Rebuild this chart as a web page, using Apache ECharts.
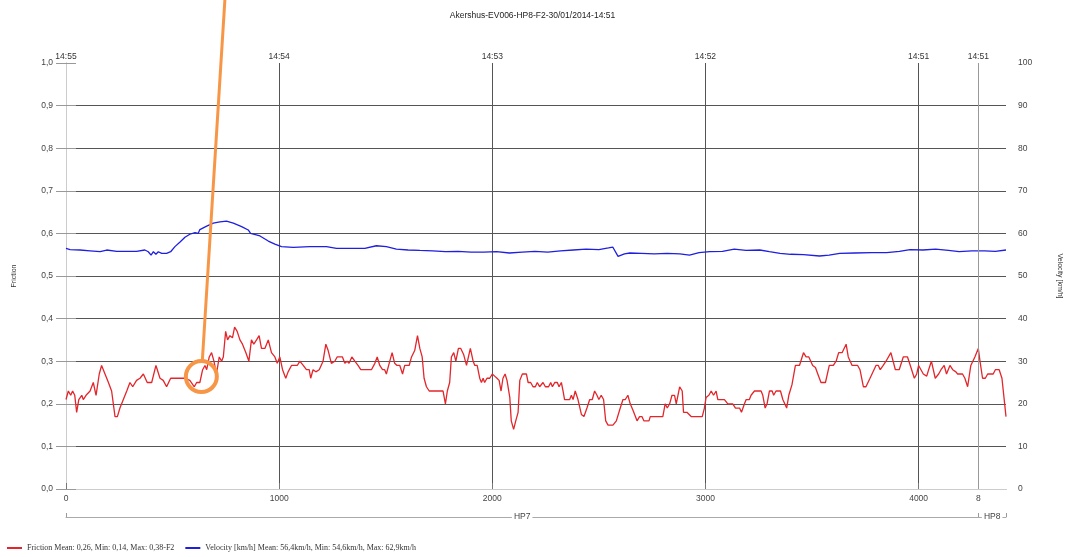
<!DOCTYPE html>
<html>
<head>
<meta charset="utf-8">
<script src="https://cdn.jsdelivr.net/npm/echarts@6/dist/echarts.min.js"></script>
<style>
  html, body { margin: 0; padding: 0; background: #fff; }
  #main { width: 1065px; height: 557px; }
</style>
</head>
<body>
<div id="main"></div>
<script>
// distance along the run (m) and friction
const frictionDist = [0,11,22,31,41,50,60,74,81,94,113,128,141,156,167,183,199,214,230,241,253,269,285,300,313,331,347,363,381,402,422,441,456,472,491,511,542,558,581,602,613,628,641,652,660,672,683,694,706,719,730,738,749,758,769,781,791,803,816,828,844,858,870,881,894,906,917,933,949,964,980,991,1003,1016,1031,1042,1058,1074,1085,1097,1113,1128,1141,1148,1159,1172,1188,1206,1219,1230,1245,1261,1272,1297,1308,1319,1328,1341,1355,1370,1383,1417,1433,1449,1460,1472,1485,1495,1503,1519,1530,1542,1553,
  1566,1579,1589,1610,1621,1636,1649,1660,1671,1680,1691,1704,1769,1780,1789,1800,1808,1819,1829,1841,1852,1866,1879,1897,1910,1918,1929,1941,1949,1957,1964,1975,1988,2000,2011,2022,2032,2041,2050,2060,2069,2082,2089,2100,2110,2121,2129,2141,2160,2168,2180,2191,2202,2211,2222,2238,2249,2264,2274,2282,2293,2305,2313,2324,2332,2339,2363,2371,2379,2389,2402,2418,2430,2444,2457,2469,2480,2491,2500,2511,2522,2532,2543,2566,2582,2597,2613,2624,2636,2647,2660,2679,2691,2702,2711,2735,2741,2800,2811,2821,2832,2843,2855,2863,2879,2891,2897,2913,2933,2972,
  2985,2995,3003,3016,3027,3038,3050,3058,3089,3105,3128,3141,3160,3169,3183,3191,3206,3214,3230,3261,3269,3280,3289,3300,3313,3320,3331,3352,3363,3370,3381,3391,3406,3422,3441,3460,3472,3485,3503,3516,3527,3542,3563,3581,3600,3613,3625,3641,3660,3670,3688,3714,3725,3741,3753,3772,3800,3811,3820,3834,3847,3870,3891,3909,3928,3948,3961,3980,3991,4000,4011,4022,4038,4047,4060,4078,4094,4105,4120,4131,4147,4160,4175,4183,4206,4217,4230,4245,4264,4280,4288,4300,4313,4324,4350,4360,4378,4391,4399,4410];
const frictionVal = [.21,.23,.22,.23,.22,.18,.21,.22,.21,.22,.23,.25,.22,.27,.29,.27,.25,.23,.17,.17,.19,.21,.23,.25,.24,.255,.26,.27,.25,.25,.29,.26,.255,.24,.26,.26,.26,.26,.255,.24,.25,.25,.28,.29,.28,.31,.32,.30,.27,.31,.30,.31,.37,.35,.36,.355,.38,.37,.35,.34,.32,.30,.35,.34,.35,.36,.33,.33,.35,.32,.31,.295,.31,.28,.26,.275,.29,.29,.29,.30,.29,.28,.28,.26,.28,.275,.28,.30,.34,.325,.295,.30,.31,.31,.295,.30,.295,.31,.30,.29,.28,.28,.28,.295,.31,.29,.28,.28,.27,.30,.32,.295,.29,
  .29,.27,.29,.29,.31,.325,.36,.33,.31,.26,.24,.23,.23,.20,.23,.25,.31,.32,.30,.33,.33,.315,.29,.33,.30,.29,.29,.26,.25,.26,.25,.26,.26,.27,.265,.26,.255,.23,.26,.27,.255,.215,.16,.14,.16,.18,.255,.27,.27,.25,.25,.24,.24,.25,.24,.25,.24,.24,.25,.24,.25,.25,.24,.25,.23,.21,.21,.22,.21,.23,.21,.175,.17,.19,.21,.21,.23,.22,.21,.22,.21,.16,.15,.15,.16,.185,.21,.21,.22,.20,.185,.16,.17,.17,.16,.16,.17,.17,.20,.19,.20,.22,.22,.20,.24,.23,.18,.18,.17,.17,
  .17,.19,.215,.22,.23,.22,.23,.21,.21,.20,.20,.19,.19,.18,.20,.21,.21,.22,.23,.23,.22,.19,.20,.23,.23,.22,.23,.23,.21,.21,.19,.22,.245,.29,.29,.32,.31,.31,.29,.285,.27,.25,.25,.29,.29,.30,.32,.32,.34,.31,.29,.29,.28,.24,.24,.26,.29,.29,.28,.29,.30,.32,.28,.28,.31,.31,.29,.26,.27,.29,.28,.27,.265,.28,.30,.26,.27,.28,.29,.27,.29,.28,.275,.27,.27,.26,.24,.29,.31,.33,.30,.26,.26,.27,.27,.28,.28,.26,.26,.17];

// distance and velocity (km/h)
const velocityDist = [0,19,66,113,160,191,238,285,331,370,386,399,410,422,433,449,472,491,511,535,558,581,605,620,628,660,691,722,753,785,824,855,866,875,910,949,980,1011,1066,1144,1222,1269,1331,1402,1410,1456,1503,1550,1605,1660,1720,1780,1840,1900,1960,2020,2080,2140,2200,2260,2320,2380,2440,2500,2545,2565,2590,2620,2645,2700,2760,2820,2880,2925,2970,3020,3080,3135,3190,3255,3300,3350,3400,3460,3535,3580,3630,3700,3780,3850,3910,3960,4020,4080,4140,4190,4250,4310,4360,4410];
const velocityVal = [56.5,56.2,56.1,55.9,55.7,56.1,55.8,55.8,55.8,56.1,55.7,54.9,55.7,55.1,55.7,55.3,55.3,55.7,56.9,58.0,59.1,59.8,60.2,60.0,60.9,61.7,62.4,62.7,62.9,62.4,61.6,60.8,60.0,60.2,59.4,58.2,57.5,56.9,56.7,56.9,56.9,56.5,56.5,56.5,56.1,57.1,56.9,56.3,56.1,56.0,55.9,55.7,55.8,55.6,55.6,55.7,55.4,55.6,55.8,55.6,55.9,56.1,56.3,56.2,56.6,56.8,54.6,55.2,55.4,55.3,55.2,55.3,55.2,54.9,55.5,55.7,55.8,56.3,56.0,56.1,55.7,55.3,55.1,55.0,54.7,54.9,55.3,55.4,55.5,55.5,55.8,56.2,56.1,56.3,56.0,55.7,55.9,55.9,55.8,56.1];

// axis ticks / labels
const distTicks = [0, 1000, 2000, 3000, 4000, 4280];
const gridX = [1000, 2000, 3000, 4000];
const timeLabels = ['14:55', '14:54', '14:53', '14:52', '14:51', '14:51'];
const sectionBounds = [0, 4280, 4410];
const sectionMids = [2140, 4345];
const sectionNames = ['HP7', 'HP8'];
const markerPos = 4280;
const annotPoint = [635, 0.264];

const fricName = 'Friction Mean: 0,26, Min: 0,14, Max: 0,38-F2';
const velName = 'Velocity [km/h] Mean: 56,4km/h, Min: 54,6km/h, Max: 62,9km/h';

const sans = 'Liberation Sans';
const chart = echarts.init(document.getElementById('main'));

const option = {
  animation: false,
  backgroundColor: '#fff',
  title: {
    text: 'Akershus-EV006-HP8-F2-30/01/2014-14:51',
    left: 'center',
    top: 11,
    padding: 0,
    textStyle: {fontFamily: sans, fontSize: 8.5, fontWeight: 'normal', color: '#222'}
  },
  legend: {
    left: 7,
    top: 544,
    icon: 'rect',
    itemWidth: 15,
    itemHeight: 2,
    itemGap: 11,
    padding: 0,
    textStyle: {fontFamily: 'Liberation Serif', fontSize: 8, color: '#333'},
    data: [fricName, velName]
  },
  grid: {left: 66, right: 59, top: 63, bottom: 68, containLabel: false, outerBoundsMode: 'none'},
  xAxis: [
    {
      type: 'value', position: 'bottom', min: 0, max: 4410, interval: 1000,
      axisLine: {show: true, lineStyle: {color: '#888'}},
      axisTick: {show: false, customValues: gridX},
      axisLabel: {
        customValues: distTicks,
        formatter: v => v === markerPos ? '8' : String(v),
        fontFamily: sans, fontSize: 8.5, color: '#444', margin: 5
      },
      splitLine: {show: true, lineStyle: {color: '#555', width: 1}}
    },
    {
      type: 'value', position: 'top', min: 0, max: 4410,
      axisLine: {show: true, lineStyle: {color: '#ccc'}},
      axisTick: {show: true, length: 6, customValues: distTicks, lineStyle: {color: '#777'}},
      axisLabel: {
        customValues: distTicks,
        formatter: v => timeLabels[distTicks.indexOf(v)],
        fontFamily: sans, fontSize: 8.5, color: '#333', margin: 2
      },
      splitLine: {show: false}
    },
    {
      type: 'value', position: 'bottom', offset: 28, min: 0, max: 4410,
      axisLine: {show: true, lineStyle: {color: '#aaa'}},
      axisTick: {show: true, inside: true, length: 4, customValues: sectionBounds, lineStyle: {color: '#999'}},
      axisLabel: {
        customValues: sectionMids,
        formatter: v => sectionNames[sectionMids.indexOf(v)],
        verticalAlign: 'middle', margin: 0,
        backgroundColor: '#fff', padding: [0, 2],
        fontFamily: sans, fontSize: 8.5, color: '#444'
      },
      splitLine: {show: false}
    }
  ],
  yAxis: [
    {
      type: 'value', min: 0, max: 1, interval: 0.1, position: 'left',
      name: 'Friction', nameLocation: 'middle', nameGap: 48, nameRotate: 90,
      nameTextStyle: {fontFamily: sans, fontSize: 7, color: '#333'},
      axisLine: {show: true, lineStyle: {color: '#ccc'}},
      axisTick: {show: true, length: 10, lineStyle: {color: '#999'}},
      axisLabel: {
        formatter: v => v.toFixed(1).replace('.', ','),
        fontFamily: sans, fontSize: 8.5, color: '#444', margin: 13
      },
      splitLine: {show: true, showMinLine: false, showMaxLine: false, lineStyle: {color: '#555', width: 1}}
    },
    {
      type: 'value', min: 0, max: 100, interval: 10, position: 'right',
      name: 'Velocity [km/h]', nameLocation: 'middle', nameGap: 50, nameRotate: -90,
      nameTextStyle: {fontFamily: sans, fontSize: 7, color: '#333'},
      axisLine: {show: true, lineStyle: {color: '#ccc'}},
      axisTick: {show: true, length: 10, lineStyle: {color: '#999'}},
      axisLabel: {fontFamily: sans, fontSize: 8.5, color: '#444', margin: 12},
      splitLine: {show: false}
    }
  ],
  series: [
    {
      name: fricName, type: 'line', xAxisIndex: 0, yAxisIndex: 0,
      symbol: 'none', color: '#e3262b',
      lineStyle: {width: 1.3, color: '#e3262b'},
      data: frictionDist.map((d, i) => [d, frictionVal[i]]),
      markLine: {
        silent: true, symbol: 'none', label: {show: false},
        lineStyle: {color: '#999', type: 'solid', width: 1},
        data: [{xAxis: markerPos}]
      },
      z: 3
    },
    {
      name: velName, type: 'line', xAxisIndex: 0, yAxisIndex: 1,
      symbol: 'none', color: '#1f1fe0',
      lineStyle: {width: 1.3, color: '#1f1fe0'},
      data: velocityDist.map((d, i) => [d, velocityVal[i]]),
      z: 3
    }
  ]
};
chart.setOption(option);

// orange hand-drawn style annotation pointing at the friction line
const c = chart.convertToPixel({xAxisIndex: 0, yAxisIndex: 0}, annotPoint);
chart.setOption({
  graphic: [
    {
      type: 'line', z: 100,
      shape: {x1: c[0] + 23.5, y1: 0, x2: c[0] + 1, y2: c[1] - 16},
      style: {stroke: '#f79646', lineWidth: 3}
    },
    {
      type: 'circle', z: 100,
      shape: {cx: c[0], cy: c[1], r: 15.5},
      style: {stroke: '#f79646', lineWidth: 4, fill: 'none'}
    }
  ]
});
</script>
</body>
</html>
